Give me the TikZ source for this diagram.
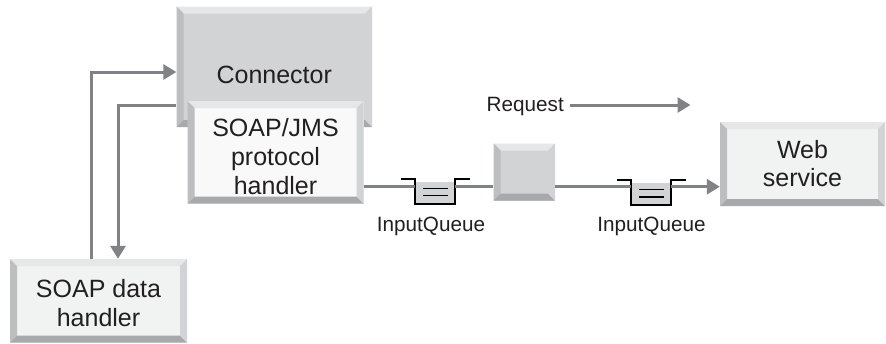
\documentclass[tikz,border=0pt]{standalone}
\usepackage{fontspec}
\setmainfont{Liberation Sans}
\usetikzlibrary{arrows.meta}
\definecolor{ink}{HTML}{231F20}
\definecolor{wire}{HTML}{808285}
\definecolor{bevT}{HTML}{E6E7E8}
\definecolor{bevL}{HTML}{BCBEC0}
\definecolor{bevB}{HTML}{A7A9AC}
\definecolor{bevR}{HTML}{D1D3D4}
\definecolor{bodyG}{HTML}{D1D3D4}
\definecolor{bodyL}{HTML}{F1F2F2}
\definecolor{bodyW}{HTML}{F9F9F9}
\tikzset{
  bx/.style={draw=none,inner sep=0pt,align=center,text=ink},
  lbl/.style={inner sep=0pt,text=ink,font=\fontsize{20.7}{24}\selectfont},
  conn/.style={draw=wire,line width=3pt},
  arr/.style={conn,-{Triangle[length=13pt,width=15pt,fill=wire]}},
  qbody/.style={inner sep=0pt,fill=bodyG,minimum width=40pt,minimum height=22pt},
  qline/.style={draw=black,line width=1.8pt},
}
% name, x1,y1,x2,y2, body colour, bevel, line spacing, text
\newcommand{\bevbox}[9]{%
  \pgfmathsetmacro{\bw}{#4-#2}\pgfmathsetmacro{\bh}{#5-#3}%
  \pgfmathsetmacro{\bx}{(#2+#4)/2}\pgfmathsetmacro{\by}{(#3+#5)/2}%
  \fill[#6] (#2,#3) rectangle (#4,#5);
  \fill[bevT] (#2,#3) -- (#4,#3) -- (#4-#7,#3+#7) -- (#2+#7,#3+#7) -- cycle;
  \fill[bevL] (#2,#3) -- (#2+#7,#3+#7) -- (#2+#7,#5-#7) -- (#2,#5) -- cycle;
  \fill[bevB] (#2,#5) -- (#2+#7,#5-#7) -- (#4-#7,#5-#7) -- (#4,#5) -- cycle;
  \fill[bevR] (#4,#3) -- (#4-#7,#3+#7) -- (#4-#7,#5-#7) -- (#4,#5) -- cycle;
  \node[bx,minimum width=\bw pt,minimum height=\bh pt,font=\fontsize{25}{#8}\selectfont] (#1) at (\bx,\by) {#9};
}
% name, left wall x, top y
\newcommand{\queue}[3]{%
  \node[qbody,anchor=north west] (#1) at (#2,#3+3) {};
  \draw[qline] (#2-14.5,#3) -- (#2,#3) -- (#2,#3+25) -- (#2+40,#3+25) -- (#2+40,#3) -- (#2+54.5,#3);
  \draw[draw=black,line width=1.1pt] (#2+8,#3+9.5) -- (#2+33,#3+9.5) (#2+8,#3+17) -- (#2+33,#3+17);
}
\begin{document}
\begin{tikzpicture}[x=1pt,y=-1pt]
\useasboundingbox (0,0) rectangle (886,343);
\fill[white] (0,0) rectangle (886,343);
\coordinate (lineY) at (0,186.7);
\bevbox{connector}{176.5}{6.5}{372}{127}{bodyG}{7}{28}{\raisebox{-34pt}{Connector}}
\bevbox{handler}{187.5}{101}{363.5}{203.5}{bodyW}{7}{29}{\rule{0pt}{26pt}SOAP/JMS\\protocol\\handler}
\bevbox{mid}{493.5}{143.5}{555}{200.7}{bodyG}{7}{28}{}
\bevbox{web}{720}{122}{885}{206}{bodyL}{7}{28}{Web\\service}
\bevbox{data}{10}{259}{187}{342.6}{bodyL}{7}{29}{\rule{0pt}{23pt}SOAP data\\handler}
\queue{qa}{415}{178.7}
\queue{qb}{631}{180}
\node[lbl] (qalabel) at (431,226) {InputQueue};
\node[lbl] (qblabel) at (651.5,226) {InputQueue};
\node[lbl,anchor=west] (req) at (486.5,106.5) {Request};
\coordinate (reqstart) at (570,105);
\coordinate (reqend) at (690.5,105);
\draw[arr] (data.north -| 91,0) |- ([yshift=-5.25pt]connector.west);
\draw[arr] ([yshift=-38.25pt]connector.west) -| (118,0 |- data.north);
\draw[conn] (handler.east |- lineY) -- (qa.west |- lineY);
\draw[conn] (qa.east |- lineY) -- (mid.west |- lineY);
\draw[conn] (mid.east |- lineY) -- (qb.west |- lineY);
\draw[arr] (qb.east |- lineY) -- (web.west |- lineY);
\draw[arr] (reqstart) -- (reqend);
\end{tikzpicture}
\end{document}
